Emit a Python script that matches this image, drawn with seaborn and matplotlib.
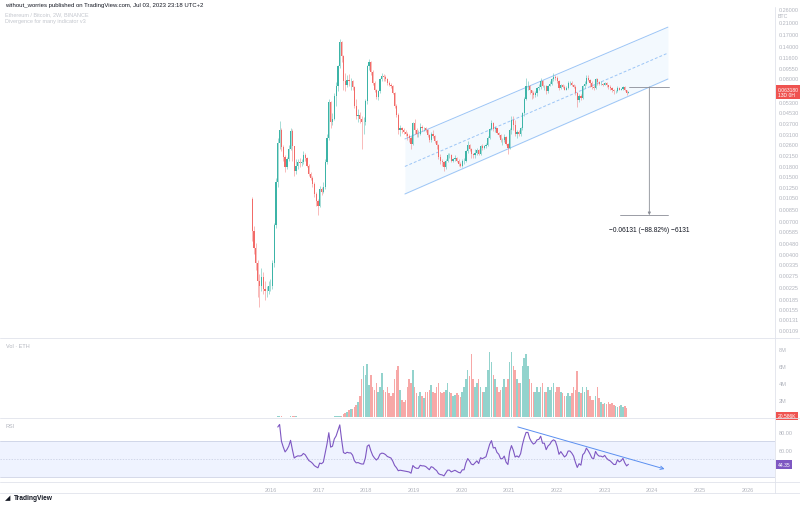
import numpy as np
import pandas as pd
import matplotlib
matplotlib.use("Agg")
import matplotlib.pyplot as plt
import matplotlib.transforms as mtransforms
from matplotlib.lines import Line2D
import seaborn as sns

# ---------------- data (2W candles, ETH/BTC) ----------------
start_date = "2015-08-10"
first_open = 0.0102

close_2015 = [0.0059, 0.0044, 0.0034, 0.0025, 0.0023, 0.0027, 0.0022, 0.0021, 0.0021, 0.0023, 0.0023]
high_2015 = [0.0106, 0.0064, 0.0048, 0.0036, 0.0028, 0.0031, 0.0029, 0.0025, 0.0023, 0.0025, 0.0026]
low_2015 = [0.0050, 0.0040, 0.0030, 0.0019, 0.0016, 0.0021, 0.0020, 0.0018, 0.0019, 0.0020, 0.0021]

close_2016 = [0.0034, 0.0065, 0.0136, 0.0265, 0.0330, 0.0247, 0.0210, 0.0175, 0.0200, 0.0240, 0.0325, 0.0250, 0.0164,
              0.0180, 0.0190, 0.0188, 0.0193, 0.0215, 0.0205, 0.0180, 0.0155, 0.0145, 0.0131, 0.0110, 0.0099, 0.0090]
high_2016 = [0.0036, 0.0068, 0.0145, 0.0290, 0.0385, 0.0340, 0.0255, 0.0215, 0.0210, 0.0255, 0.0340, 0.0335, 0.0250,
             0.0200, 0.0200, 0.0205, 0.0200, 0.0230, 0.0225, 0.0210, 0.0185, 0.0160, 0.0150, 0.0135, 0.0115, 0.0102]
low_2016 = [0.0022, 0.0032, 0.0062, 0.0125, 0.0240, 0.0230, 0.0195, 0.0160, 0.0170, 0.0195, 0.0235, 0.0195, 0.0150,
            0.0155, 0.0170, 0.0175, 0.0180, 0.0185, 0.0195, 0.0175, 0.0150, 0.0140, 0.0125, 0.0105, 0.0090, 0.0078]

close_2017 = [0.0120, 0.0115, 0.0125, 0.0190, 0.0290, 0.0530, 0.0380, 0.0400, 0.0590, 0.0700, 0.0990, 0.1500, 0.1170,
              0.0760, 0.0720, 0.0780, 0.0760, 0.0760, 0.0690, 0.0500, 0.0420, 0.0430, 0.0400, 0.0380, 0.0380, 0.0540]
high_2017 = [0.0128, 0.0125, 0.0135, 0.0200, 0.0310, 0.0560, 0.0540, 0.0440, 0.0620, 0.0750, 0.1000, 0.1560, 0.1520,
             0.1200, 0.0880, 0.0840, 0.0860, 0.0800, 0.0780, 0.0700, 0.0560, 0.0470, 0.0450, 0.0420, 0.0410, 0.0560]
low_2017 = [0.0088, 0.0108, 0.0112, 0.0120, 0.0185, 0.0280, 0.0340, 0.0360, 0.0390, 0.0500, 0.0640, 0.0950, 0.1050,
            0.0650, 0.0640, 0.0690, 0.0700, 0.0660, 0.0650, 0.0480, 0.0400, 0.0380, 0.0370, 0.0240, 0.0310, 0.0360]

close_2018 = [0.0990, 0.1060, 0.0890, 0.0740, 0.0650, 0.0580, 0.0640, 0.0790, 0.0830, 0.0820, 0.0790, 0.0740, 0.0720,
              0.0700, 0.0620, 0.0500, 0.0430, 0.0330, 0.0340, 0.0330, 0.0320, 0.0310, 0.0300, 0.0290, 0.0260, 0.0370]
high_2018 = [0.1000, 0.1120, 0.1070, 0.0920, 0.0760, 0.0670, 0.0660, 0.0800, 0.0880, 0.0860, 0.0840, 0.0800, 0.0760,
             0.0740, 0.0720, 0.0630, 0.0520, 0.0440, 0.0360, 0.0350, 0.0340, 0.0330, 0.0320, 0.0310, 0.0300, 0.0380]
low_2018 = [0.0520, 0.0920, 0.0850, 0.0720, 0.0630, 0.0560, 0.0550, 0.0620, 0.0760, 0.0760, 0.0760, 0.0720, 0.0700,
            0.0680, 0.0610, 0.0480, 0.0410, 0.0310, 0.0300, 0.0315, 0.0310, 0.0300, 0.0280, 0.0270, 0.0240, 0.0255]

close_2019 = [0.0330, 0.0310, 0.0310, 0.0350, 0.0340, 0.0340, 0.0330, 0.0305, 0.0280, 0.0310, 0.0300, 0.0275, 0.0255,
              0.0210, 0.0195, 0.0190, 0.0175, 0.0195, 0.0215, 0.0215, 0.0195, 0.0200, 0.0205, 0.0195, 0.0185, 0.0180]
high_2019 = [0.0400, 0.0340, 0.0330, 0.0370, 0.0360, 0.0350, 0.0350, 0.0335, 0.0310, 0.0320, 0.0330, 0.0305, 0.0280,
             0.0260, 0.0220, 0.0200, 0.0195, 0.0200, 0.0225, 0.0225, 0.0220, 0.0205, 0.0215, 0.0210, 0.0200, 0.0190]
low_2019 = [0.0310, 0.0295, 0.0295, 0.0305, 0.0325, 0.0325, 0.0320, 0.0295, 0.0270, 0.0270, 0.0290, 0.0265, 0.0240,
            0.0200, 0.0185, 0.0180, 0.0165, 0.0170, 0.0190, 0.0205, 0.0190, 0.0190, 0.0195, 0.0190, 0.0180, 0.0175]

close_2020 = [0.0195, 0.0195, 0.0230, 0.0255, 0.0240, 0.0220, 0.0215, 0.0225, 0.0235, 0.0220, 0.0250, 0.0245, 0.0250,
              0.0255, 0.0290, 0.0335, 0.0370, 0.0335, 0.0340, 0.0315, 0.0305, 0.0280, 0.0280, 0.0295, 0.0260, 0.0245]
high_2020 = [0.0200, 0.0205, 0.0235, 0.0275, 0.0260, 0.0245, 0.0225, 0.0240, 0.0245, 0.0240, 0.0255, 0.0260, 0.0255,
             0.0265, 0.0300, 0.0345, 0.0390, 0.0380, 0.0355, 0.0345, 0.0320, 0.0310, 0.0290, 0.0310, 0.0300, 0.0265]
low_2020 = [0.0175, 0.0185, 0.0190, 0.0225, 0.0230, 0.0205, 0.0205, 0.0205, 0.0215, 0.0215, 0.0215, 0.0235, 0.0240,
            0.0245, 0.0250, 0.0285, 0.0330, 0.0325, 0.0320, 0.0310, 0.0295, 0.0270, 0.0255, 0.0270, 0.0255, 0.0220]

close_2021 = [0.0330, 0.0390, 0.0360, 0.0310, 0.0320, 0.0310, 0.0340, 0.0440, 0.0560, 0.0700, 0.0700, 0.0650, 0.0620,
              0.0600, 0.0620, 0.0680, 0.0690, 0.0760, 0.0700, 0.0700, 0.0640, 0.0700, 0.0730, 0.0790, 0.0820, 0.0810]
high_2021 = [0.0340, 0.0420, 0.0420, 0.0390, 0.0330, 0.0330, 0.0350, 0.0450, 0.0580, 0.0810, 0.0760, 0.0720, 0.0650,
             0.0640, 0.0640, 0.0690, 0.0730, 0.0800, 0.0780, 0.0720, 0.0710, 0.0720, 0.0770, 0.0800, 0.0880, 0.0840]
low_2021 = [0.0240, 0.0310, 0.0330, 0.0300, 0.0290, 0.0300, 0.0300, 0.0330, 0.0420, 0.0550, 0.0650, 0.0610, 0.0560,
            0.0570, 0.0580, 0.0590, 0.0650, 0.0670, 0.0690, 0.0660, 0.0610, 0.0620, 0.0700, 0.0710, 0.0760, 0.0780]

close_2022 = [0.0760, 0.0680, 0.0720, 0.0690, 0.0660, 0.0680, 0.0740, 0.0740, 0.0720, 0.0690, 0.0620, 0.0550, 0.0590,
              0.0570, 0.0700, 0.0730, 0.0810, 0.0780, 0.0740, 0.0690, 0.0680, 0.0790, 0.0750, 0.0730, 0.0730, 0.0720]
high_2022 = [0.0830, 0.0780, 0.0730, 0.0730, 0.0710, 0.0700, 0.0760, 0.0770, 0.0760, 0.0730, 0.0710, 0.0630, 0.0610,
             0.0610, 0.0720, 0.0760, 0.0840, 0.0850, 0.0790, 0.0760, 0.0720, 0.0810, 0.0800, 0.0770, 0.0760, 0.0740]
low_2022 = [0.0740, 0.0650, 0.0670, 0.0680, 0.0650, 0.0650, 0.0670, 0.0720, 0.0700, 0.0680, 0.0600, 0.0490, 0.0530,
            0.0550, 0.0560, 0.0680, 0.0720, 0.0760, 0.0690, 0.0670, 0.0660, 0.0670, 0.0710, 0.0710, 0.0710, 0.0700]

close_2023 = [0.0740, 0.0710, 0.0690, 0.0680, 0.0660, 0.0640, 0.0640, 0.0680, 0.0660, 0.0670, 0.0690, 0.0650, 0.0620, 0.0632]
high_2023 = [0.0750, 0.0750, 0.0720, 0.0720, 0.0690, 0.0670, 0.0660, 0.0700, 0.0690, 0.0680, 0.0700, 0.0700, 0.0660, 0.0640]
low_2023 = [0.0710, 0.0690, 0.0670, 0.0660, 0.0630, 0.0610, 0.0620, 0.0630, 0.0650, 0.0650, 0.0660, 0.0640, 0.0605, 0.0620]

# volume in millions of ETH
vol_2015 = [0.02, 0.02, 0.02, 0.03, 0.03, 0.02, 0.02, 0.02, 0.01, 0.01, 0.01]
vol_2016 = [0.02, 0.03, 0.05, 0.06, 0.08, 0.06, 0.05, 0.04, 0.04, 0.05, 0.06, 0.09, 0.07,
            0.06, 0.05, 0.04, 0.04, 0.04, 0.03, 0.03, 0.03, 0.03, 0.03, 0.03, 0.03, 0.03]
vol_2017 = [0.03, 0.03, 0.03, 0.03, 0.04, 0.05, 0.05, 0.05, 0.06, 0.06, 0.08, 0.10, 0.10,
            0.3, 0.5, 0.6, 0.8, 1.0, 0.9, 1.2, 1.4, 1.8, 2.5, 4.5, 6.0, 5.0]
vol_2018 = [6.2, 3.8, 5.0, 3.5, 3.2, 4.0, 3.0, 3.5, 5.2, 3.2, 3.0, 3.5, 2.8,
            2.5, 2.8, 4.5, 5.5, 6.0, 3.2, 2.0, 1.8, 2.0, 3.5, 4.5, 4.0, 5.5]
vol_2019 = [3.5, 2.8, 2.5, 3.0, 2.5, 2.2, 3.0, 3.0, 3.2, 3.8, 3.0, 2.8, 3.5,
            4.0, 3.0, 2.8, 3.0, 3.2, 4.0, 3.0, 2.8, 2.5, 2.6, 2.8, 2.6, 2.4]
vol_2020 = [3.0, 3.5, 4.5, 5.5, 4.8, 7.4, 4.5, 3.5, 4.0, 4.5, 3.5, 3.0, 3.0,
            3.5, 5.5, 7.6, 6.5, 5.0, 4.5, 3.5, 3.0, 3.2, 3.5, 4.5, 3.5, 4.5]
vol_2021 = [6.5, 7.6, 6.0, 5.5, 4.5, 4.0, 4.0, 6.0, 7.0, 7.4, 6.0, 4.5, 4.0,
            3.0, 3.0, 3.5, 3.0, 3.5, 4.0, 3.0, 3.0, 3.5, 3.2, 3.5, 4.0, 3.0]
vol_2022 = [3.5, 3.5, 3.0, 2.8, 2.5, 2.5, 2.8, 2.5, 2.8, 3.5, 3.2, 5.4, 3.0,
            2.8, 3.5, 3.0, 3.5, 3.2, 2.5, 2.0, 2.0, 2.5, 3.5, 2.2, 1.8, 1.5]
vol_2023 = [1.6, 1.5, 1.8, 1.5, 1.6, 1.4, 1.3, 1.2, 1.3, 1.4, 1.2, 1.3, 1.1, 0.05]

price_ticks = [0.26, 0.21, 0.17, 0.14, 0.116, 0.0955, 0.08, 0.053, 0.0453, 0.037, 0.031, 0.026,
               0.0215, 0.018, 0.015, 0.0125, 0.0105, 0.0085, 0.007, 0.00585, 0.0048, 0.004, 0.00335,
               0.00275, 0.00225, 0.00185, 0.00155, 0.00131, 0.00109]
vol_ticks = [2, 4, 6, 8]
vol_tick_labels = ["2M", "4M", "6M", "8M"]
rsi_ticks = [60, 80]
year_ticks = list(range(2016, 2027))

# annotations
channel_x = [2018.81, 2024.33]
channel_lower = [0.01108, 0.0791]
channel_upper = [0.0284, 0.192]
measure_x = 2023.94
measure_top, measure_bottom = 0.06903, 0.00772
measure_top_span = [2023.52, 2024.35]
measure_bottom_span = [2023.32, 2024.33]
measure_text = "\u22120.06131 (\u221288.82%) \u22126131"
rsi_trend_x = [2021.18, 2024.26]
rsi_trend_y = [85.6, 38.9]
last_price_text = "0.063180\n13D 0H"
last_vol_text = "20.586K"
last_rsi_text = "44.35"

closes = close_2015 + close_2016 + close_2017 + close_2018 + close_2019 + close_2020 + close_2021 + close_2022 + close_2023
highs = high_2015 + high_2016 + high_2017 + high_2018 + high_2019 + high_2020 + high_2021 + high_2022 + high_2023
lows = low_2015 + low_2016 + low_2017 + low_2018 + low_2019 + low_2020 + low_2021 + low_2022 + low_2023
volumes = vol_2015 + vol_2016 + vol_2017 + vol_2018 + vol_2019 + vol_2020 + vol_2021 + vol_2022 + vol_2023

n = len(closes)
dates = pd.date_range(start_date, periods=n, freq="14D")
x = np.array(dates.year + (dates.dayofyear - 1) / 365.25)
c = np.array(closes)
o = np.concatenate([[first_open], c[:-1]])
h = np.maximum.reduce([np.array(highs), o, c])
l = np.minimum.reduce([np.array(lows), o, c])
v = np.array(volumes)
up = c >= o

# Wilder RSI(14)
period = 14
d = np.diff(c)
g = np.clip(d, 0, None)
ls = np.clip(-d, 0, None)
rsi = np.full(n, np.nan)
ag = g[:period].mean()
al = ls[:period].mean()
rsi[period] = 100 - 100 / (1 + ag / al)
for i in range(period + 1, n):
    ag = (ag * (period - 1) + g[i - 1]) / period
    al = (al * (period - 1) + ls[i - 1]) / period
    rsi[i] = 100 - 100 / (1 + ag / al)
rsi_df = pd.DataFrame({"year": x, "rsi": rsi}).dropna()

# ---------------- styling ----------------
sns.set_theme(style="white")
plt.rcParams["font.family"] = ["Liberation Sans", "DejaVu Sans"]

GREEN = "#3cb4a7"
RED = "#f26b68"
GRID = "#e0e3eb"
TXT = "#b2b5be"
W, H = 800, 506

fig = plt.figure(figsize=(8, 5.06), dpi=100)
fig.patch.set_facecolor("white")


def pane(top_px, bottom_px):
    return [0, 1 - bottom_px / H, 775 / W, (bottom_px - top_px) / H]


ax = fig.add_axes(pane(8, 338))
axv = fig.add_axes(pane(340, 418), sharex=ax)
axr = fig.add_axes(pane(420, 482), sharex=ax)

xmin, xmax = 2010.313, 2026.577
for a in (ax, axv, axr):
    a.set_facecolor("white")
    for s in a.spines.values():
        s.set_visible(False)
    a.tick_params(axis="both", length=0, labelsize=4, colors=TXT, pad=3)
    a.yaxis.tick_right()
ax.set_xlim(xmin, xmax)

# ---- main candles ----
ax.set_yscale("log")
ax.set_ylim(0.000961, 0.2709)
cols = np.where(up, GREEN, RED)
ax.vlines(x, l, h, colors=cols, linewidth=0.4, alpha=0.8, zorder=3)
body_lo = np.minimum(o, c)
body_hi = np.maximum(o, c)
ax.bar(x, body_hi - body_lo, bottom=body_lo, width=0.026, color=cols, linewidth=0, zorder=4)

ax.set_yticks(price_ticks)
ax.set_yticklabels([f"{t:.5f}" for t in price_ticks])
ax.yaxis.set_minor_locator(matplotlib.ticker.NullLocator())
ax.tick_params(axis="x", labelbottom=False)
ax.set_xticks(year_ticks)

# channel
cx = np.array(channel_x)
lo_ = np.array(channel_lower)
hi_ = np.array(channel_upper)
mid_ = np.sqrt(lo_ * hi_)
ax.fill_between(cx, lo_, hi_, color="#2196f3", alpha=0.05, linewidth=0, zorder=1)
ax.plot(cx, lo_, color="#9cc5f6", linewidth=0.7, zorder=2)
ax.plot(cx, hi_, color="#9cc5f6", linewidth=0.7, zorder=2)
ax.plot(cx, mid_, color="#9cc5f6", linewidth=0.7, linestyle=(0, (3, 2)), zorder=2)

# measurement
mcol = "#8a8d96"
ax.plot(measure_top_span, [measure_top, measure_top], color=mcol, linewidth=0.6, zorder=5)
ax.plot(measure_bottom_span, [measure_bottom, measure_bottom], color=mcol, linewidth=0.6, zorder=5)
ax.annotate("", xy=(measure_x, measure_bottom), xytext=(measure_x, measure_top),
            arrowprops=dict(arrowstyle="-|>", color=mcol, lw=0.6, mutation_scale=4, shrinkA=0, shrinkB=0),
            zorder=5)
ax.annotate(measure_text, xy=(measure_x, measure_bottom), xytext=(0, -10), textcoords="offset points",
            ha="center", va="center", fontsize=4.8, color="#131722")

# last price label
blend = mtransforms.blended_transform_factory(ax.transAxes, ax.transData)
ax.text(1.004, c[-1], last_price_text, transform=blend, ha="left", va="center", fontsize=3.6,
        color="white", linespacing=1.1,
        bbox=dict(boxstyle="square,pad=0.35", facecolor="#ef5350", edgecolor="none"), zorder=10, clip_on=False)
ax.text(1.004, 0.236, "BTC", transform=blend, ha="left", va="center", fontsize=3.8, color=TXT, clip_on=False)

# ---- volume ----
vcols = np.where(up, "#93d3cd", "#f7a8a7")
axv.bar(x, v, width=0.032, color=vcols, linewidth=0)
axv.set_ylim(0, 9.18)
axv.set_yticks(vol_ticks)
axv.set_yticklabels(vol_tick_labels)
axv.tick_params(axis="x", labelbottom=False)
blendv = mtransforms.blended_transform_factory(axv.transAxes, axv.transData)
axv.text(1.004, 0.12, last_vol_text, transform=blendv, ha="left", va="center", fontsize=3.6, color="white",
         bbox=dict(boxstyle="square,pad=0.35", facecolor="#ef5350", edgecolor="none"), zorder=10, clip_on=False)

# ---- RSI ----
axr.set_ylim(25.6, 94.4)
axr.axhspan(30, 70, color="#2962ff", alpha=0.07, linewidth=0, zorder=0)
axr.axhline(70, color="#c5cbe0", linewidth=0.5, zorder=1)
axr.axhline(50, color="#c5cbe0", linewidth=0.5, linestyle=(0, (2, 2)), zorder=1)
axr.axhline(30, color="#c5cbe0", linewidth=0.5, zorder=1)
sns.lineplot(data=rsi_df, x="year", y="rsi", ax=axr, color="#7e57c2", linewidth=0.8, zorder=3)
axr.set_xlabel("")
axr.set_ylabel("")
axr.set_yticks(rsi_ticks)
axr.set_yticklabels([f"{t:.2f}" for t in rsi_ticks])
axr.annotate("", xy=(rsi_trend_x[1], rsi_trend_y[1]), xytext=(rsi_trend_x[0], rsi_trend_y[0]),
             arrowprops=dict(arrowstyle="->", color="#5b8ff0", lw=0.7, mutation_scale=6, shrinkA=0, shrinkB=0),
             zorder=4)
blendr = mtransforms.blended_transform_factory(axr.transAxes, axr.transData)
axr.text(1.004, rsi_df["rsi"].iloc[-1], last_rsi_text, transform=blendr, ha="left", va="center", fontsize=3.6,
         color="white", bbox=dict(boxstyle="square,pad=0.35", facecolor="#7e57c2", edgecolor="none"),
         zorder=10, clip_on=False)
axr.set_xticks(year_ticks)
axr.set_xticklabels([str(y) for y in year_ticks])
axr.tick_params(axis="x", labelbottom=True, pad=4)
axr.set_xlim(xmin, xmax)

# ---- pane separators ----
def hline(ypx, x0=0, x1=W):
    fig.add_artist(Line2D([x0 / W, x1 / W], [1 - ypx / H, 1 - ypx / H], color=GRID, linewidth=0.6))


def vline(xpx, y0, y1):
    fig.add_artist(Line2D([xpx / W, xpx / W], [1 - y0 / H, 1 - y1 / H], color=GRID, linewidth=0.6))


for ypx in (339, 419, 483, 494):
    hline(ypx)
vline(775, 8, 494)

# ---- header / labels ----
fig.text(5 / W, 1 - 5 / H, "without_worries published on TradingView.com, Jul 03, 2023 23:18 UTC+2",
         fontsize=4.3, color="#131722", va="center", ha="left")
fig.text(5 / W, 1 - 15 / H, "Ethereum / Bitcoin, 2W, BINANCE", fontsize=4, color="#c4c7ce", va="center")
fig.text(5 / W, 1 - 22 / H, "Divergence for many indicator v3", fontsize=4, color="#c4c7ce", va="center")
fig.text(6 / W, 1 - 346 / H, "Vol \u00b7 ETH", fontsize=4, color="#b2b5be", va="center")
fig.text(6 / W, 1 - 426 / H, "RSI", fontsize=4, color="#b2b5be", va="center")
fig.text(14 / W, 1 - 499 / H, "TradingView", fontsize=4.8, color="#131722", va="center", fontweight="bold")
fig.text(5 / W, 1 - 499 / H, "\u25e2", fontsize=5, color="#131722", va="center")

fig.savefig("out.png", dpi=100, facecolor="white")
